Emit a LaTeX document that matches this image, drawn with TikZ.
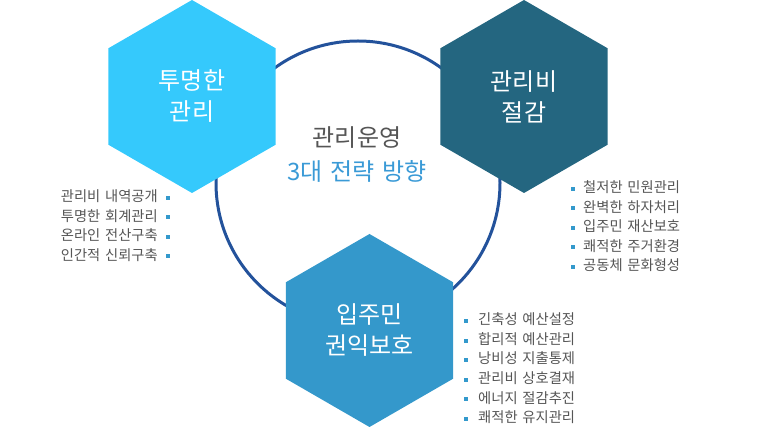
\documentclass[tikz,border=0pt]{standalone}
\usepackage{fontspec}
\setmainfont[WordSpace=1.5]{Noto Sans CJK KR}
\usetikzlibrary{shapes.geometric}
\definecolor{hexA}{HTML}{35C9FC}
\definecolor{hexB}{HTML}{246680}
\definecolor{hexC}{HTML}{3498CB}
\definecolor{ring}{HTML}{23529B}
\definecolor{txtgray}{HTML}{555555}
\definecolor{accent}{HTML}{3A9AD6}
\definecolor{bul}{HTML}{3399CC}
\tikzset{
  hexbox/.style={regular polygon, regular polygon sides=6, shape border rotate=30,
    minimum size=193pt, inner sep=0pt, outer sep=0pt, draw=none,
    text=white, align=center, font=\fontsize{24pt}{31pt}\selectfont},
  item/.style={inner sep=0pt, text=txtgray, font=\fontsize{14.3pt}{16pt}\selectfont,
    text height=0.83em, text depth=0.07em},
  bulletsq/.style={fill=bul, draw=none, minimum size=4pt, inner sep=0pt, outer sep=0pt}
}
\begin{document}
\begin{tikzpicture}[x=1pt,y=-1pt]
\useasboundingbox (0,0) rectangle (780,430);
% ring
\node[circle, draw=ring, line width=3pt, minimum size=284pt, inner sep=0pt] (ring) at (358,183) {};
% hexagons
\node[hexbox, fill=hexA] (hA) at (192,96.5) {투명한\\관리};
\node[hexbox, fill=hexB] (hB) at (524,96.5) {관리비\\절감};
\node[hexbox, fill=hexC] (hC) at (369.5,330.5) {입주민\\권익보호};
% center text
\node[item, font=\fontsize{24pt}{26pt}\selectfont] (t1) at (357,143) {관리운영};
\node[item, text=accent, font=\fontsize{24pt}{26pt}\selectfont] (t2) at (357,177) {3대 전략 방향};
% left list
\foreach \i/\t in {0/관리비 내역공개,1/투명한 회계관리,2/온라인 전산구축,3/인간적 신뢰구축}{
  \node[item, anchor=east] (l\i) at (158,{198+19.5*\i}) {\t};
  \node[bulletsq] (lb\i) at (168,{198+19.5*\i}) {};
}
% right list
\foreach \i/\t in {0/철저한 민원관리,1/완벽한 하자처리,2/입주민 재산보호,3/쾌적한 주거환경,4/공동체 문화형성}{
  \node[bulletsq] (rb\i) at (573,{189+19.5*\i}) {};
  \node[item, anchor=west] (r\i) at (583,{189+19.5*\i}) {\t};
}
% bottom list
\foreach \i/\t in {0/긴축성 예산설정,1/합리적 예산관리,2/낭비성 지출통제,3/관리비 상호결재,4/에너지 절감추진,5/쾌적한 유지관리}{
  \node[bulletsq] (bb\i) at (466,{321+19.6*\i}) {};
  \node[item, anchor=west] (b\i) at (478,{321+19.6*\i}) {\t};
}
\end{tikzpicture}
\end{document}
